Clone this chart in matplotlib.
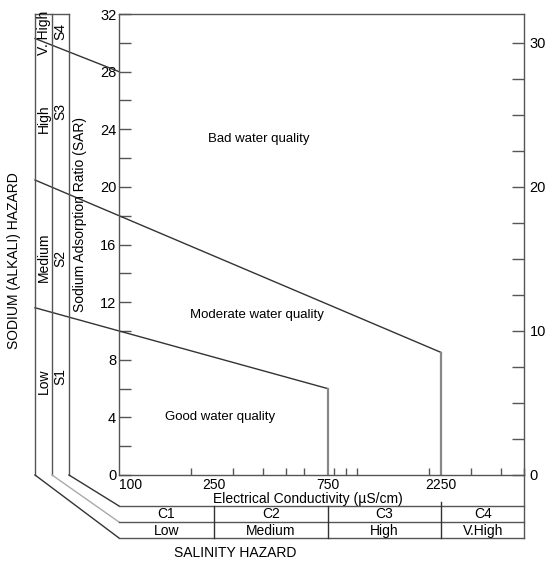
import numpy as np
import matplotlib.pyplot as plt
from matplotlib import transforms

plt.rcParams['font.family'] = ['Liberation Sans', 'DejaVu Sans']

# class boundaries (EC in uS/cm, SAR)
s1s2_ec = [100, 750]
s1s2_sar = [10.0, 6.0]
s2s3_ec = [100, 2250]
s2s3_sar = [18.0, 8.5]
s3s4_sar = [30.3, 28.0]      # outer strip edge -> SAR axis

ec_breaks = [100, 250, 750, 2250, 5000]
ec_labels = ['100', '250', '750', '2250']
ec_minor = [200, 300, 400, 500, 600, 800, 900, 1000, 2000, 3000, 4000, 5000]
c_classes = ['C1', 'C2', 'C3', 'C4']
c_names = ['Low', 'Medium', 'High', 'V.High']

s_classes = ['S1', 'S2', 'S3', 'S4']
s_class_pos = [6.8, 15.0, 25.2, 30.8]
s_names = ['Low', 'Medium', 'High', 'V. High']
s_name_pos = [6.5, 15.1, 24.7, 30.7]

zones = ['Bad water quality', 'Moderate water quality', 'Good water quality']
zone_ec = [386, 379, 265]
zone_sar = [23.3, 11.1, 4.0]

AX_COL = '#555555'
LN_COL = '#333333'

fig = plt.figure(figsize=(5.47, 5.62), dpi=100)
ax = fig.add_axes([119 / 547, 1 - 475 / 562, 405 / 547, 461 / 562])
ax.set_xscale('log')
ax.set_xlim(100, 5000)
ax.set_ylim(0, 32)

for sp in ax.spines.values():
    sp.set_color(AX_COL)
    sp.set_linewidth(1.0)

# left SAR axis
ax.set_yticks(np.arange(0, 33, 4))
ax.set_yticks(np.arange(0, 33, 2), minor=True)
ax.tick_params(axis='y', which='both', direction='in', length=8.5, width=1.0,
               color=AX_COL, labelsize=10.5, pad=2)

# EC axis
ax.set_xticks(ec_breaks[:-1], ec_labels)
ax.set_xticks(ec_minor, minor=True)
ax.xaxis.set_minor_formatter(plt.NullFormatter())
ax.tick_params(axis='x', which='major', length=0, labelsize=10, pad=2)
ax.tick_params(axis='x', which='minor', direction='in', length=5, width=1.0, color=AX_COL)
ax.get_xticklabels()[0].set_ha('left')

# right axis
ax2 = ax.twinx()
ax2.set_ylim(0, 32)
ax2.set_yticks([0, 10, 20, 30])
ax2.set_yticks(np.arange(0, 31, 2.5), minor=True)
ax2.tick_params(axis='y', which='both', direction='in', length=8.5, width=1.0,
                color=AX_COL, labelsize=10.5, pad=4)
for sp in ax2.spines.values():
    sp.set_visible(False)

# strips on the left, in axes fraction
strip_x = [-0.2074, -0.1654, -0.1235]
table_y = [-0.0672, -0.1020, -0.1367]
mix = transforms.blended_transform_factory(ax.transAxes, ax.transData)
mix_x = transforms.blended_transform_factory(ax.transData, ax.transAxes)


def to_axes_x(ec):
    return ax.transAxes.inverted().transform(ax.transData.transform((ec, 0)))[0]


def boundary(ec, sar):
    xa = [to_axes_x(e) for e in ec]
    slope = (sar[1] - sar[0]) / (xa[1] - xa[0])
    left = sar[0] + slope * (strip_x[0] - xa[0])
    ax.plot([strip_x[0]] + xa, [left] + list(sar), color=LN_COL, lw=1.0,
            transform=mix, clip_on=False)
    ax.plot([ec[1], ec[1]], [sar[1], 0], color='#888888', lw=1.6)


boundary(s1s2_ec, s1s2_sar)
boundary(s2s3_ec, s2s3_sar)
ax.plot([strip_x[0], 0], s3s4_sar, color=LN_COL, lw=1.0, transform=mix, clip_on=False)

for i, sx in enumerate(strip_x):
    ax.plot([sx, sx], [0, 1], color=AX_COL, lw=1.0, transform=ax.transAxes, clip_on=False)
    c = '#aaaaaa' if i == 1 else LN_COL
    ax.plot([sx, 0], [0, table_y[2 - i]], color=c, lw=1.0, transform=ax.transAxes, clip_on=False)
ax.plot([strip_x[0], strip_x[2]], [1, 1], color=AX_COL, lw=1.0, transform=ax.transAxes, clip_on=False)

for s, p in zip(s_names, s_name_pos):
    ax.text(-0.1864, p, s, rotation=90, ha='center', va='center', fontsize=10,
            transform=mix, clip_on=False)
for s, p in zip(s_classes, s_class_pos):
    ax.text(-0.1444, p, s, rotation=90, ha='center', va='center', fontsize=10,
            transform=mix, clip_on=False)
ax.text(-0.0963, 0.565, 'Sodium Adsorption Ratio (SAR)', rotation=90, ha='center',
        va='center', fontsize=10, transform=ax.transAxes)
ax.text(-0.2593, 0.466, 'SODIUM (ALKALI) HAZARD', rotation=90, ha='center',
        va='center', fontsize=10, transform=ax.transAxes)

# salinity table
for ty in table_y:
    ax.plot([0, 1], [ty, ty], color=AX_COL, lw=1.0, transform=ax.transAxes, clip_on=False)
ax.plot([1, 1], [0, table_y[2]], color=AX_COL, lw=1.0, transform=ax.transAxes, clip_on=False)
for e in ec_breaks[1:-1]:
    top = -0.058 if e == 2250 else table_y[0]
    ax.plot([e, e], [top, table_y[2]], color=LN_COL, lw=1.0, transform=mix_x, clip_on=False)
for i in range(4):
    mid = np.sqrt(ec_breaks[i] * ec_breaks[i + 1])
    ax.text(mid, -0.085, c_classes[i], ha='center', va='center', fontsize=10,
            transform=mix_x, clip_on=False)
    ax.text(mid, -0.121, c_names[i], ha='center', va='center', fontsize=10,
            transform=mix_x, clip_on=False)

ax.text(0.467, -0.051, 'Electrical Conductivity (\u00b5S/cm)', ha='center', va='center',
        fontsize=10, transform=ax.transAxes)
ax.text(0.286, -0.169, 'SALINITY HAZARD', ha='center', va='center', fontsize=10,
        transform=ax.transAxes)

for z, e, s in zip(zones, zone_ec, zone_sar):
    ax.text(e, s, z, ha='center', va='center', fontsize=9.5)

fig.savefig('out.png', dpi=100)
